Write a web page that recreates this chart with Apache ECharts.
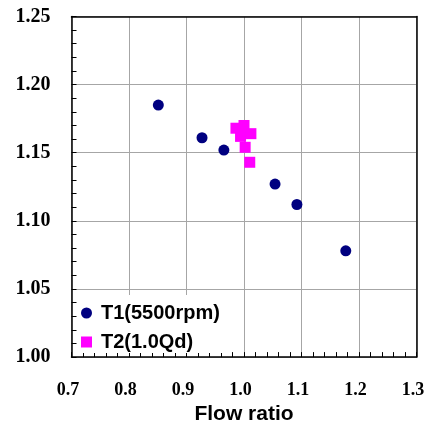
<!DOCTYPE html>
<html><head><meta charset="utf-8">
<script src="https://cdn.jsdelivr.net/npm/echarts@6/dist/echarts.min.js"></script>
<style>html,body{margin:0;padding:0;background:#fff}#c{width:428px;height:430px}</style>
</head><body><div id="c"></div>
<script>
const t1X = [0.851, 0.927, 0.965, 1.054, 1.092, 1.177];
const t1Y = [1.185, 1.161, 1.152, 1.127, 1.112, 1.078];
const t2X = [0.986, 1.000, 1.012, 0.994, 1.002, 1.010];
const t2Y = [1.168, 1.170, 1.164, 1.162, 1.154, 1.143];
const seriesNames = ['T1(5500rpm)', 'T2(1.0Qd)'];
const xName = 'Flow ratio';

const zip = (a, b) => a.map((v, i) => [v, b[i]]);
const frameAxis = (pos) => ({
  type: 'value', position: pos, min: 0, max: 1,
  axisLine: { show: true, onZero: false, lineStyle: { color: '#000', width: 1.5 } },
  axisTick: { show: false }, axisLabel: { show: false }, splitLine: { show: false }
});
const chart = echarts.init(document.getElementById('c'));
chart.setOption({
  animation: false,
  backgroundColor: '#fff',
  grid: { left: 71.5, right: 11.5, top: 16.5, bottom: 70 },
  xAxis: [{
    type: 'value', min: 0.7, max: 1.3, interval: 0.1, position: 'bottom',
    name: xName, nameLocation: 'middle', nameGap: 42,
    nameTextStyle: { fontFamily: 'Liberation Sans', fontWeight: 'bold', fontSize: 21, color: '#000' },
    axisLine: { show: true, onZero: false, lineStyle: { color: '#000', width: 1.5 } },
    axisTick: { show: true, inside: true, length: 5, lineStyle: { color: '#000', width: 1 } },
    minorTick: { show: true, splitNumber: 5, length: 5, lineStyle: { color: '#000', width: 1 } },
    splitLine: { show: true, lineStyle: { color: '#a6a6a6', width: 1 } },
    axisLabel: { fontFamily: 'Liberation Serif', fontWeight: 'bold', fontSize: 18, color: '#000', margin: 24, padding: [0, 7, 0, 0], formatter: v => v.toFixed(1) }
  }, frameAxis('top')],
  yAxis: [{
    type: 'value', min: 1.0, max: 1.25, interval: 0.05, position: 'left',
    axisLine: { show: true, onZero: false, lineStyle: { color: '#000', width: 1.5 } },
    axisTick: { show: true, inside: true, length: 5, lineStyle: { color: '#000', width: 1 } },
    minorTick: { show: true, splitNumber: 5, length: 5, lineStyle: { color: '#000', width: 1 } },
    splitLine: { show: true, lineStyle: { color: '#a6a6a6', width: 1 } },
    axisLabel: { fontFamily: 'Liberation Serif', fontWeight: 'bold', fontSize: 20, color: '#000', margin: 21, padding: [4, 0, 0, 0], formatter: v => v.toFixed(2) }
  }, frameAxis('right')],
  legend: {
    orient: 'vertical', left: 77, top: 295,
    backgroundColor: '#fff', padding: [8, 12, 1, 4], itemGap: 9,
    itemWidth: 11, itemHeight: 11,
    textStyle: { fontFamily: 'Liberation Sans', fontWeight: 'bold', fontSize: 20, color: '#000', padding: [0, 0, 0, 4] },
    data: [{ name: seriesNames[0], icon: 'circle' }, { name: seriesNames[1], icon: 'rect' }]
  },
  series: [
    { name: seriesNames[0], type: 'scatter', symbol: 'circle', symbolSize: 11, itemStyle: { color: '#000080', opacity: 1 }, data: zip(t1X, t1Y), z: 3 },
    { name: seriesNames[1], type: 'scatter', symbol: 'rect', symbolSize: 11, itemStyle: { color: '#ff00ff', opacity: 1 }, data: zip(t2X, t2Y), z: 3 }
  ]
});
</script></body></html>
